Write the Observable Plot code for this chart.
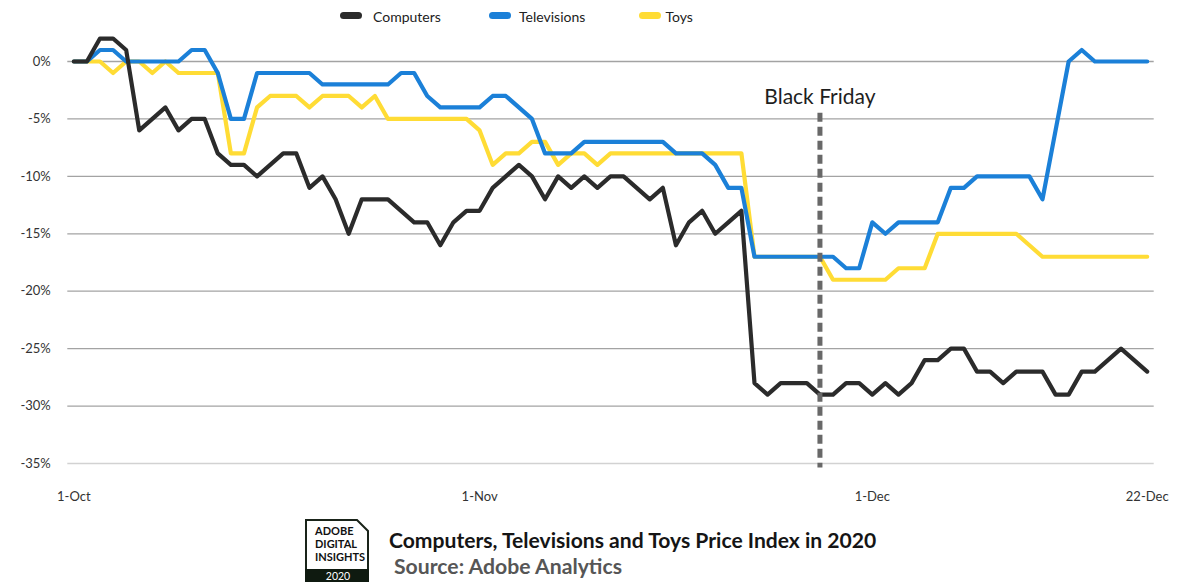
<!DOCTYPE html>
<html>
<head>
<meta charset="utf-8">
<script src="https://cdn.jsdelivr.net/npm/d3@7"></script>
<script src="https://cdn.jsdelivr.net/npm/@observablehq/plot@0.6"></script>
<style>
  html, body { margin: 0; padding: 0; background: #fff; }
  body { width: 1188px; height: 582px; overflow: hidden; font-family: Lato, "Open Sans", sans-serif; position: relative; }
  #legend { position: relative; height: 30px; }
  #legend .sw { position: absolute; top: 12px; width: 22px; height: 7px; border-radius: 4px; }
  #legend .lb { position: absolute; top: 0; line-height: 34px; font-size: 14px; color: #222; }
  #chart svg { display: block; }
  #caption { display: block; }
</style>
</head>
<body>
<div id="legend"></div>
<div id="chart"></div>
<svg id="caption" width="1188" height="70" viewBox="0 512 1188 70"></svg>
<script>
// ---- data (daily price index change, %, 1 Oct – 22 Dec 2020) ----
const seriesNames = ["Computers", "Televisions", "Toys"];
const seriesColors = ["#2b2b2b", "#1b80d8", "#ffdc35"];

const computers = [0,0,2,2,1,-6,-5,-4,-6,-5,
  -5,-8,-9,-9,-10,-9,-8,-8,-11,-10,
  -12,-15,-12,-12,-12,-13,-14,-14,-16,-14,
  -13,-13,-11,-10,-9,-10,-12,-10,-11,-10,
  -11,-10,-10,-11,-12,-11,-16,-14,-13,-15,
  -14,-13,-28,-29,-28,-28,-28,-29,-29,-28,
  -28,-29,-28,-29,-28,-26,-26,-25,-25,-27,
  -27,-28,-27,-27,-27,-29,-29,-27,-27,-26,
  -25,-26,-27];

const televisions = [0,0,1,1,0,0,0,0,0,1,
  1,-1,-5,-5,-1,-1,-1,-1,-1,-2,
  -2,-2,-2,-2,-2,-1,-1,-3,-4,-4,
  -4,-4,-3,-3,-4,-5,-8,-8,-8,-7,
  -7,-7,-7,-7,-7,-7,-8,-8,-8,-9,
  -11,-11,-17,-17,-17,-17,-17,-17,-17,-18,
  -18,-14,-15,-14,-14,-14,-14,-11,-11,-10,
  -10,-10,-10,-10,-12,-6,0,1,0,0,
  0,0,0];

const toys = [0,0,0,-1,0,0,-1,0,-1,-1,
  -1,-1,-8,-8,-4,-3,-3,-3,-4,-3,
  -3,-3,-4,-3,-5,-5,-5,-5,-5,-5,
  -5,-6,-9,-8,-8,-7,-7,-9,-8,-8,
  -9,-8,-8,-8,-8,-8,-8,-8,-8,-8,
  -8,-8,-17,-17,-17,-17,-17,-17,-19,-19,
  -19,-19,-19,-18,-18,-18,-15,-15,-15,-15,
  -15,-15,-15,-16,-17,-17,-17,-17,-17,-17,
  -17,-17,-17];

const yTicks = [-35, -30, -25, -20, -15, -10, -5, 0];
const xTickLabels = ["1-Oct", "1-Nov", "1-Dec", "22-Dec"];
const xTickDates = [new Date(Date.UTC(2020,9,1)), new Date(Date.UTC(2020,10,1)), new Date(Date.UTC(2020,11,1)), new Date(Date.UTC(2020,11,22))];

const annotation = [{date: new Date(Date.UTC(2020,10,27)), label: "Black Friday", top: -4.5, bottom: -35.4, labelY: -3.1}];

const titleText = "Computers, Televisions and Toys Price Index in 2020";
const sourceText = "Source: Adobe Analytics";

// ---- build ----
const dates = computers.map((_, i) => new Date(Date.UTC(2020, 9, 1 + i)));
const rows = vals => vals.map((v, i) => ({date: dates[i], value: v}));
const seriesValues = [computers, televisions, toys];

// legend
const legend = document.getElementById("legend");
const swatchX = [340, 489, 639];
const labelX = [373, 519, 665.5];
seriesNames.forEach((name, i) => {
  const sw = document.createElement("div");
  sw.className = "sw"; sw.style.left = swatchX[i] + "px"; sw.style.background = seriesColors[i];
  legend.appendChild(sw);
  const lb = document.createElement("div");
  lb.className = "lb"; lb.style.left = labelX[i] + "px"; lb.textContent = name;
  legend.appendChild(lb);
});

const lineMark = i => Plot.lineY(rows(seriesValues[i]), {
  x: "date", y: "value", stroke: seriesColors[i], strokeWidth: 4.2, strokeLinejoin: "round"
});

const chart = Plot.plot({
  width: 1188,
  height: 482,
  marginLeft: 73.3,
  marginRight: 41.3,
  marginTop: 31,
  marginBottom: 49,
  style: {fontFamily: "Lato, 'Open Sans', sans-serif", fontSize: "13px", color: "#333", background: "#fff"},
  x: {type: "utc", domain: [dates[0], dates[dates.length - 1]], label: null},
  y: {domain: [-35, 0], label: null},
  marks: [
    Plot.ruleY(yTicks.filter(d => d !== -35), {stroke: "#a3a3a3", strokeWidth: 1.3, insetLeft: -6, insetRight: -7}),
    Plot.ruleY(yTicks.filter(d => d === -35), {stroke: "#d2d2d2", strokeWidth: 1.3, insetLeft: -6, insetRight: -7}),
    Plot.axisY({ticks: yTicks, tickFormat: d => d + "%", tickSize: 0, tickPadding: 23, fontSize: 13, label: null}),
    Plot.axisX({ticks: xTickDates, tickFormat: (d, i) => xTickLabels[i], tickSize: 0, tickPadding: 28, fontSize: 13, label: null}),
    lineMark(2),
    lineMark(1),
    lineMark(0),
    Plot.ruleX(annotation, {x: "date", y1: "top", y2: "bottom", stroke: "#686868", strokeWidth: 5, strokeDasharray: "9,5"}),
    Plot.text(annotation, {x: "date", y: "labelY", text: "label", fontSize: 21, fill: "#1e1e1e"})
  ]
});
document.getElementById("chart").appendChild(chart);

// caption with badge
const cap = d3.select("#caption");
const badge = cap.append("g");
badge.append("path")
  .attr("d", "M306,520 H357 L368,531 V584 H306 Z")
  .attr("fill", "#fff").attr("stroke", "#1a241a").attr("stroke-width", 2);
badge.append("rect").attr("x", 305).attr("y", 569).attr("width", 64).attr("height", 15).attr("fill", "#0f1a10");
[["ADOBE", 535], ["DIGITAL", 548], ["INSIGHTS", 561]].forEach(([t, y]) => {
  badge.append("text").attr("x", 315).attr("y", y).text(t)
    .attr("font-family", "Lato, 'Open Sans', sans-serif").attr("font-weight", 700)
    .attr("font-size", 11).attr("fill", "#111");
});
badge.append("text").attr("x", 338).attr("y", 580).attr("text-anchor", "middle").text("2020")
  .attr("font-family", "Lato, 'Open Sans', sans-serif").attr("font-size", 10.5).attr("fill", "#fff");
cap.append("text").attr("x", 389).attr("y", 548).text(titleText)
  .attr("font-family", "Lato, 'Open Sans', sans-serif").attr("font-weight", 700)
  .attr("font-size", 21.1).attr("fill", "#151515");
cap.append("text").attr("x", 394).attr("y", 574).text(sourceText)
  .attr("font-family", "Lato, 'Open Sans', sans-serif").attr("font-weight", 700)
  .attr("font-size", 21.2).attr("fill", "#565656");
</script>
</body>
</html>
